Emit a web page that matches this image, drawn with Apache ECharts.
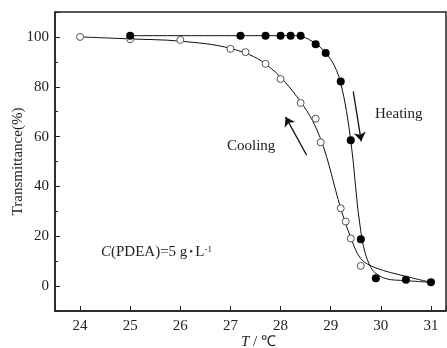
<!DOCTYPE html>
<html>
<head>
<meta charset="utf-8">
<script src="https://cdn.jsdelivr.net/npm/echarts@6/dist/echarts.min.js"></script>
<style>
  html, body { margin: 0; padding: 0; background: #fff; }
  #main { width: 447px; height: 348px; }
</style>
</head>
<body>
<div id="main"></div>
<script>
// measured points [T, transmittance]
const coolingPoints = [[24, 100], [25, 99.1], [26, 98.8], [27, 95.2], [27.3, 93.9], [27.7, 89.2], [28, 83.1],
  [28.4, 73.5], [28.7, 67.2], [28.8, 57.7], [29.2, 31.2], [29.3, 25.9], [29.4, 19.1], [29.6, 8.1]];
const heatingPoints = [[25, 100.5], [27.2, 100.5], [27.7, 100.5], [28, 100.5], [28.2, 100.5], [28.4, 100.5],
  [28.7, 97.1], [28.9, 93.5], [29.2, 82.1], [29.4, 58.5], [29.6, 18.8], [29.9, 3.1], [30.5, 2.5], [31, 1.5]];

// fitted curves
const coolingCurve = [[24, 100], [25, 99.2], [26, 98.3], [27, 95.4], [27.7, 89.2], [28.4, 74], [28.8, 59],
  [29.2, 31.2], [29.4, 19.5], [29.6, 11], [29.9, 7.3], [30.5, 3.9], [31, 1.5]];
const heatingCurve = [[25, 100.5], [28.3, 100.5], [28.7, 97.3], [29, 91], [29.2, 81.5], [29.4, 58.5],
  [29.6, 22], [29.8, 7.5], [30.1, 3], [30.5, 2.2], [31, 1.5]];

// arrows [from, to]
const heatingArrow = [[29.45, 78.1], [29.61, 58.1]];
const coolingArrow = [[28.52, 52.5], [28.1, 67.9]];

const xMin = 23.5, xMax = 31.3;
const yMin = -10, yMax = 110;

const serif = 'Liberation Serif';
let chart = echarts.init(document.getElementById('main'));

let option = {
  animation: false,
  backgroundColor: '#fff',
  textStyle: { fontFamily: serif },
  grid: {
    left: 55, right: 1, top: 12, bottom: 37,
    outerBoundsMode: 'none',
    containLabel: false,
    show: true, borderColor: '#222', borderWidth: 1.5
  },
  xAxis: {
    type: 'value',
    min: xMin, max: xMax,
    minInterval: 1, maxInterval: 1,
    name: '{i|T} / ℃',
    nameLocation: 'middle',
    nameGap: 24,
    nameMoveOverlap: false,
    nameTextStyle: {
      fontFamily: serif, fontSize: 15, color: '#222', padding: [0, 0, 0, 16],
      rich: { i: { fontFamily: serif, fontSize: 15, fontStyle: 'italic', color: '#222' } }
    },
    axisLine: { onZero: false, lineStyle: { color: '#222', width: 1.5 } },
    axisTick: { inside: true, length: 5, lineStyle: { color: '#222' } },
    axisLabel: {
      margin: 8, fontFamily: serif, fontSize: 15, color: '#222',
      formatter: v => (Number.isInteger(v) ? v : '')
    },
    splitLine: { show: false }
  },
  yAxis: [
    {
      type: 'value',
      min: yMin, max: yMax,
      minInterval: 20, maxInterval: 20,
      name: 'Transmittance(%)',
      nameLocation: 'middle',
      nameGap: 29,
      nameMoveOverlap: false,
      nameTextStyle: { fontFamily: serif, fontSize: 15, color: '#222' },
      axisLine: { onZero: false, lineStyle: { color: '#222', width: 1.5 } },
      axisTick: { inside: true, length: 5, lineStyle: { color: '#222' } },
      axisLabel: {
        margin: 6, fontFamily: serif, fontSize: 15, color: '#222',
        formatter: v => (v % 20 === 0 && v >= 0 && v <= 100 ? v : '')
      },
      splitLine: { show: false }
    },
    {
      // minor ticks every 10
      type: 'value',
      position: 'left',
      min: yMin, max: yMax,
      minInterval: 10, maxInterval: 10,
      axisLine: { show: false, onZero: false },
      axisTick: { inside: true, length: 3, lineStyle: { color: '#222' } },
      axisLabel: { show: false },
      splitLine: { show: false }
    }
  ],
  graphic: [
    {
      type: 'text', left: 375, top: 107,
      style: { text: 'Heating', font: '15px "Liberation Serif"', fill: '#222' }
    },
    {
      type: 'text', left: 227, top: 139,
      style: { text: 'Cooling', font: '15px "Liberation Serif"', fill: '#222' }
    },
    {
      type: 'text', left: 101, top: 245,
      style: {
        text: '{i|C}(PDEA)=5 g{d|•}L{s|-1}',
        font: '15px "Liberation Serif"', fill: '#222',
        rich: {
          i: { fontFamily: serif, fontSize: 15, fontStyle: 'italic', fill: '#222' },
          d: { fontFamily: serif, fontSize: 11, fill: '#222', padding: [0, 2, 0, 2] },
          s: { fontFamily: serif, fontSize: 9, fill: '#222', verticalAlign: 'top', padding: [0, 0, 6, 0] }
        }
      }
    }
  ],
  series: [
    {
      name: 'cooling fit',
      type: 'line',
      data: coolingCurve,
      smooth: 0.35,
      showSymbol: false,
      lineStyle: { color: '#111', width: 1 },
      z: 2
    },
    {
      name: 'heating fit',
      type: 'line',
      data: heatingCurve,
      smooth: 0.35,
      showSymbol: false,
      lineStyle: { color: '#111', width: 1 },
      z: 2,
      markLine: {
        silent: true,
        symbol: ['none', 'arrow'],
        symbolSize: 9,
        label: { show: false },
        lineStyle: { color: '#111', width: 1.3, type: 'solid' },
        data: [
          [{ coord: heatingArrow[0] }, { coord: heatingArrow[1] }],
          [{ coord: coolingArrow[0] }, { coord: coolingArrow[1] }]
        ]
      }
    },
    {
      name: 'Cooling',
      type: 'scatter',
      data: coolingPoints,
      symbol: 'circle',
      symbolSize: 7,
      itemStyle: { color: '#fff', borderColor: '#555', borderWidth: 1, opacity: 1 },
      z: 3
    },
    {
      name: 'Heating',
      type: 'scatter',
      data: heatingPoints,
      symbol: 'circle',
      symbolSize: 8,
      itemStyle: { color: '#000', opacity: 1 },
      z: 4
    }
  ]
};

chart.setOption(option);
</script>
</body>
</html>
